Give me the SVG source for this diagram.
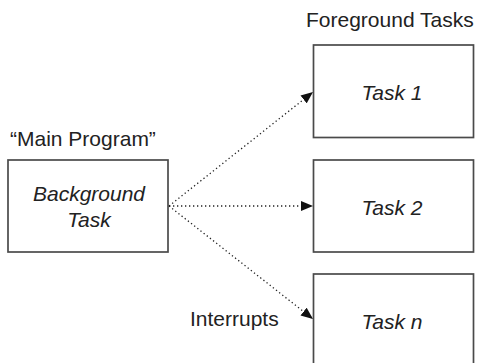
<svg xmlns="http://www.w3.org/2000/svg" width="479" height="363" viewBox="0 0 479 363">
  <style>
    .box { fill: #ffffff; stroke: #4a4a4a; stroke-width: 1.7; }
    .lbl { font-family: "Liberation Sans", Arial, sans-serif; font-size: 21px; fill: #222222; }
    .it { font-style: italic; }
    .link { fill: none; stroke: #222222; stroke-width: 1.3; stroke-dasharray: 1.3 2.7; }
  </style>
  <defs>
    <marker id="head" viewBox="0 0 12 10" refX="12" refY="5" markerWidth="12" markerHeight="10" markerUnits="userSpaceOnUse" orient="auto">
      <path d="M0,0 L12,5 L0,10 Z" fill="#111111"/>
    </marker>
  </defs>
  <rect width="479" height="363" fill="#ffffff"/>

  <text class="lbl" x="306" y="27">Foreground Tasks</text>
  <text class="lbl" x="10" y="146">“Main Program”</text>
  <text class="lbl" x="190" y="326">Interrupts</text>

  <g id="background">
    <rect class="box" x="8" y="160" width="160" height="92"/>
    <text class="lbl it" x="89" y="201" text-anchor="middle">Background</text>
    <text class="lbl it" x="89" y="227" text-anchor="middle">Task</text>
  </g>

  <g id="task1">
    <rect class="box" x="313.5" y="45" width="160" height="92.5"/>
    <text class="lbl it" x="392" y="100" text-anchor="middle">Task 1</text>
  </g>

  <g id="task2">
    <rect class="box" x="313.5" y="160" width="160" height="92"/>
    <text class="lbl it" x="392" y="215" text-anchor="middle">Task 2</text>
  </g>

  <g id="taskn">
    <rect class="box" x="313.5" y="274" width="160" height="100"/>
    <text class="lbl it" x="392" y="329" text-anchor="middle">Task n</text>
  </g>

  <g id="connectors">
    <line class="link" x1="169" y1="206" x2="313" y2="92" marker-end="url(#head)"/>
    <line class="link" x1="169" y1="206" x2="313" y2="206" marker-end="url(#head)"/>
    <line class="link" x1="169" y1="206" x2="313" y2="319" marker-end="url(#head)"/>
  </g>
</svg>
